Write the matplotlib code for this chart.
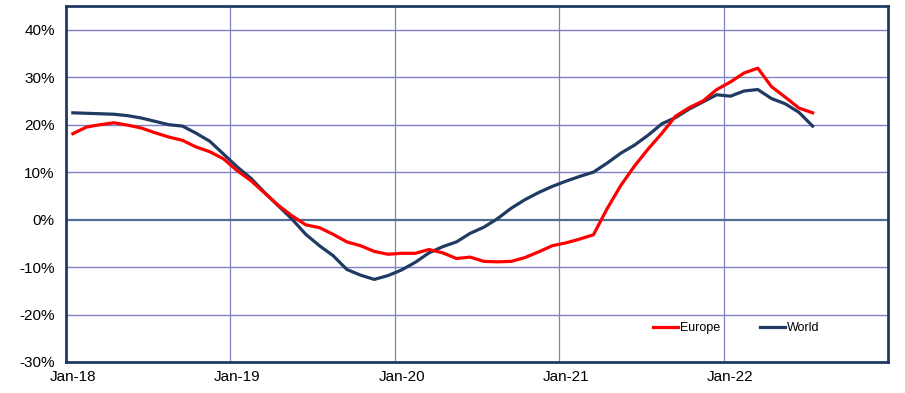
import numpy as np
import matplotlib.pyplot as plt
from matplotlib.ticker import FuncFormatter

plt.rcParams['font.family'] = ['Liberation Sans', 'DejaVu Sans']

# monthly values, Jan-18 .. Jul-22 (%)
europe = [18.1, 19.5, 20.0, 20.4, 19.9, 19.3, 18.3, 17.4, 16.7, 15.3, 14.3, 12.8,
          10.3, 8.2, 5.6, 3.0, 0.8, -1.1, -1.7, -3.1, -4.7, -5.5, -6.7, -7.3,
          -7.1, -7.1, -6.3, -7.0, -8.2, -7.9, -8.8, -8.9, -8.8, -8.0, -6.8, -5.5,
          -4.9, -4.1, -3.2, 2.3, 7.2, 11.3, 14.9, 18.2, 21.8, 23.6, 25.0, 27.4,
          29.0, 30.9, 31.9, 28.0, 25.8, 23.5, 22.5]
world = [22.5, 22.4, 22.3, 22.2, 21.9, 21.4, 20.7, 20.0, 19.7, 18.2, 16.5, 13.8,
         11.1, 8.7, 5.7, 2.9, 0.1, -3.1, -5.5, -7.6, -10.5, -11.7, -12.6, -11.8,
         -10.6, -9.0, -7.0, -5.7, -4.7, -2.9, -1.6, 0.2, 2.4, 4.2, 5.7, 7.0,
         8.1, 9.1, 10.0, 11.9, 14.0, 15.7, 17.8, 20.2, 21.5, 23.3, 24.8, 26.3,
         26.0, 27.1, 27.4, 25.5, 24.4, 22.6, 19.7]
year_labels = ['Jan-18', 'Jan-19', 'Jan-20', 'Jan-21', 'Jan-22']
n_months = 60  # category axis Jan-18 .. Dec-22

x = np.arange(len(europe)) + 0.5

fig = plt.figure(figsize=(9.05, 3.93), dpi=100)
ax = fig.add_axes([0.0729, 0.0789, 0.9083, 0.9058])

grid_c = '#8080C4'
for yv in range(-20, 45, 10):
    if yv != 0:
        ax.axhline(yv, color=grid_c, lw=1.0, zorder=1)
for xv in range(12, n_months, 12):
    ax.axvline(xv, color=grid_c, lw=0.9, zorder=1)
ax.axhline(0, color='#4F6E92', lw=1.6, zorder=2)

ax.plot(x, europe, color='#FF0000', lw=2.3, label='Europe', zorder=4)
ax.plot(x, world, color='#1F3B63', lw=2.3, label='World', zorder=3)

ax.set_xlim(0, n_months)
ax.set_ylim(-30, 45)
ax.set_yticks(range(-30, 45, 10))
ax.yaxis.set_major_formatter(FuncFormatter(lambda v, p: f'{v:.0f}%'))
ax.set_xticks(np.arange(0, n_months - 11, 12) + 0.5)
ax.set_xticklabels(year_labels)
ax.tick_params(length=0, labelsize=11, colors='black')
ax.tick_params(axis='y', pad=8)
ax.tick_params(axis='x', pad=6)

for s in ax.spines.values():
    s.set_color('#1F3B63')
    s.set_linewidth(2)

ax.legend(loc='center left', bbox_to_anchor=(0.700, 0.095), ncol=2, frameon=False,
          fontsize=9, handlelength=2.0, handletextpad=0.15, columnspacing=3.2)

fig.savefig('out.png', dpi=100)
